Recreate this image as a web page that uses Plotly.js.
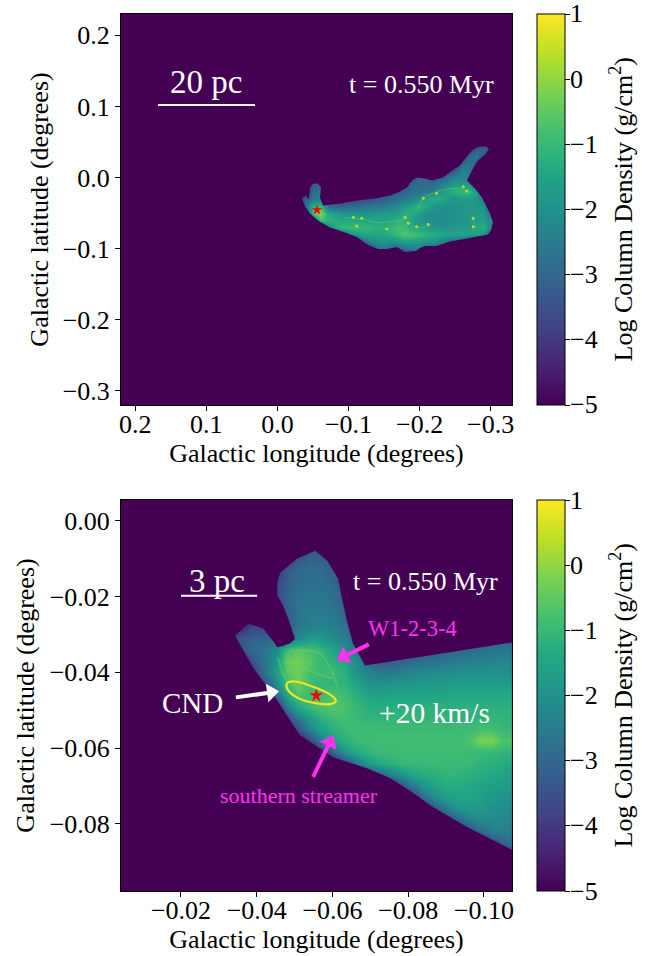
<!DOCTYPE html>
<html>
<head>
<meta charset="utf-8">
<script src="https://cdn.plot.ly/plotly-3.0.1.min.js"></script>
<style>html,body{margin:0;padding:0;background:#fff}</style>
</head>
<body>
<div id="chart" style="width:654px;height:956px"></div>
<script>
const topLon = [-0.03,-0.04,-0.05,-0.06,-0.07,-0.08,-0.09,-0.10,-0.11,-0.12,-0.13,-0.14,-0.15,-0.16,-0.17,-0.18,-0.19,-0.20,-0.21,-0.22,-0.23,-0.24,-0.25,-0.26,-0.27,-0.28,-0.29,-0.30,-0.31];
const topLat = [0.05,0.04,0.03,0.02,0.01,0.00,-0.01,-0.02,-0.03,-0.04,-0.05,-0.06,-0.07,-0.08,-0.09,-0.10,-0.11];
const topDensity = [
[-5,-5,-5,-5,-5,-5,-5,-5,-5,-5,-5,-5,-5,-5,-5,-5,-5,-5,-5,-5,-5,-5,-5,-5,-5,-4.4,-4.0,-5,-5],
[-5,-5,-5,-5,-5,-5,-5,-5,-5,-5,-5,-5,-5,-5,-5,-5,-5,-5,-5,-5,-5,-5,-5,-5,-4.0,-3.2,-2.9,-4.0,-5],
[-5,-5,-5,-5,-5,-5,-5,-5,-5,-5,-5,-5,-5,-5,-5,-5,-5,-5,-5,-5,-5,-5,-5,-4.2,-2.9,-2.7,-3.4,-4.6,-5],
[-5,-5,-5,-5,-5,-5,-5,-5,-5,-5,-5,-5,-5,-5,-5,-5,-5,-5,-5,-5,-5,-5,-4.2,-3.0,-2.6,-3.2,-4.4,-5,-5],
[-5,-5,-5,-5,-5,-5,-5,-5,-5,-5,-5,-5,-5,-5,-5,-5,-5,-5,-5,-5,-5,-4,-3.2,-2.4,-2.5,-3.8,-5,-5,-5],
[-5,-5,-5,-5,-5,-5,-5,-5,-5,-5,-5,-5,-5,-5,-5,-4.6,-3.6,-3.0,-3.2,-3.4,-3.2,-2.6,-2.2,-2.2,-2.6,-4.2,-5,-5,-5],
[-5,-4.5,-3.2,-3.1,-4.4,-5,-5,-5,-5,-5,-5,-5,-5,-5,-4.2,-3.4,-3.0,-2.9,-2.9,-2.8,-2.4,-2.1,-1.7,-1.7,-1.9,-3.0,-4.6,-5,-5],
[-5,-4,-2.9,-2.8,-4,-5,-5,-5,-5,-5,-5,-4.6,-4.2,-3.8,-3.3,-3.0,-2.8,-2.7,-2.6,-2.4,-1.9,-1.4,-1.1,-1.0,-1.0,-1.7,-3.2,-4.8,-5],
[-3.8,-3.2,-2.6,-2.5,-3.8,-4.4,-4.4,-4.2,-4.0,-3.8,-3.6,-3.4,-3.3,-3.0,-2.8,-2.6,-2.4,-2.0,-1.5,-1.2,-1.3,-1.7,-1.8,-1.7,-1.7,-1.8,-2.6,-4.2,-5],
[-4.4,-2.6,-1.1,-0.9,-2.6,-3.0,-3.0,-2.9,-2.8,-2.7,-2.6,-2.5,-2.4,-2.3,-2.1,-1.7,-1.3,-1.1,-1.5,-1.9,-2.0,-2.0,-2.0,-1.9,-1.8,-1.8,-2.0,-3.6,-5],
[-5,-3.6,-0.7,0.0,-1.2,-1.6,-1.8,-1.9,-1.9,-1.9,-1.9,-1.9,-1.8,-1.7,-1.5,-1.2,-1.3,-1.7,-2.0,-2.1,-2.1,-2.1,-2.0,-1.9,-1.8,-1.7,-1.8,-2.8,-4.4],
[-5,-5,-3.0,-0.9,-1.1,-1.2,-1.4,-1.4,-1.4,-1.4,-1.5,-1.5,-1.5,-1.4,-1.1,-1.2,-1.6,-1.9,-2.1,-2.1,-2.1,-2.1,-2.0,-1.9,-1.8,-1.7,-1.5,-2.2,-4],
[-5,-5,-5,-3.2,-2.4,-1.4,-1.0,-0.9,-0.9,-1.0,-1.1,-1.2,-1.2,-1.0,-0.8,-0.9,-1.3,-1.5,-1.7,-1.8,-1.9,-1.9,-1.8,-1.7,-1.7,-1.5,-1.2,-2.2,-4.4],
[-5,-5,-5,-5,-5,-4.6,-3.0,-2.2,-1.7,-1.5,-1.4,-1.4,-1.4,-1.2,-0.9,-0.6,-0.8,-0.9,-1.1,-1.3,-1.4,-1.5,-1.5,-1.5,-1.5,-1.5,-1.9,-3.4,-5],
[-5,-5,-5,-5,-5,-5,-5,-5,-3.8,-2.9,-2.3,-2.0,-1.9,-2.0,-1.7,-1.6,-1.6,-1.6,-1.8,-1.9,-2.2,-2.7,-3.0,-3.4,-4.2,-5,-5,-5,-5],
[-5,-5,-5,-5,-5,-5,-5,-5,-5,-5,-3.8,-2.9,-2.6,-3.0,-3.2,-2.8,-2.4,-2.5,-3.0,-3.6,-4.4,-5,-5,-5,-5,-5,-5,-5,-5],
[-5,-5,-5,-5,-5,-5,-5,-5,-5,-5,-5,-4.4,-4,-4.4,-5,-4.4,-3.6,-4,-5,-5,-5,-5,-5,-5,-5,-5,-5,-5,-5]
];
const topEdgeLon = [-0.0346,-0.0402,-0.0444,-0.0459,-0.0501,-0.0571,-0.0613,-0.0599,-0.0641,-0.0880,-0.1120,-0.1373,-0.1584,-0.1725,-0.1823,-0.1893,-0.1963,-0.2076,-0.2174,-0.2329,-0.2456,-0.2568,-0.2653,-0.2737,-0.2836,-0.2948,-0.2976,-0.2920,-0.2807,-0.2737,-0.2667,-0.2779,-0.2878,-0.2948,-0.2990,-0.3033,-0.3004,-0.2962,-0.2667,-0.2428,-0.2245,-0.2076,-0.2006,-0.1949,-0.1795,-0.1682,-0.1541,-0.1415,-0.1274,-0.1120,-0.0951,-0.0740,-0.0571,-0.0459,-0.0388,-0.0346];
const topEdgeLat = [-0.0295,-0.0253,-0.0309,-0.0140,-0.0084,-0.0084,-0.0140,-0.0281,-0.0393,-0.0365,-0.0323,-0.0295,-0.0253,-0.0197,-0.0140,-0.0042,0.0000,-0.0014,-0.0042,0.0000,0.0098,0.0169,0.0281,0.0379,0.0435,0.0435,0.0393,0.0323,0.0225,0.0098,-0.0042,-0.0154,-0.0281,-0.0421,-0.0506,-0.0632,-0.0744,-0.0801,-0.0857,-0.0899,-0.0963,-0.0963,-0.0992,-0.1034,-0.1048,-0.0977,-0.1006,-0.1006,-0.0949,-0.0837,-0.0772,-0.0702,-0.0604,-0.0506,-0.0407,-0.0295];
const filamentLon = [-0.0928,-0.1196,-0.1407,-0.1730,-0.1829,-0.1941,-0.2152,null,-0.1969,-0.2053,-0.2293,-0.2574,-0.2715,null,-0.2729,-0.2786,-0.2743];
const filamentLat = [-0.0562,-0.0590,-0.0632,-0.0604,-0.0576,-0.0702,-0.0674,null,-0.0463,-0.0295,-0.0183,-0.0154,-0.0211,null,-0.0562,-0.0674,-0.0744];
const knotLon = [-0.1115,-0.1186,-0.1068,-0.1795,-0.1841,-0.1959,-0.2122,-0.1537,-0.2755,-0.2755,-0.2615,-0.2662,-0.2240,-0.2052];
const knotLat = [-0.0682,-0.0574,-0.0560,-0.0560,-0.0644,-0.0692,-0.0658,-0.0724,-0.0574,-0.0692,-0.0129,-0.0190,-0.0222,-0.0293];

const botLon = [-0.036,-0.039,-0.042,-0.045,-0.048,-0.051,-0.054,-0.057,-0.060,-0.063,-0.066,-0.069,-0.072,-0.075,-0.078,-0.081,-0.084,-0.087,-0.090,-0.093,-0.096,-0.099,-0.102,-0.105,-0.108];
const botLat = [-0.007,-0.010,-0.013,-0.016,-0.019,-0.022,-0.025,-0.028,-0.031,-0.034,-0.037,-0.040,-0.043,-0.046,-0.049,-0.052,-0.055,-0.058,-0.061,-0.064,-0.067,-0.070,-0.073,-0.076,-0.079,-0.082,-0.085,-0.088,-0.091];
const botDensity = [
[-5,-5,-5,-5,-5,-4,-3.4,-3.6,-4,-5,-5,-5,-5,-5,-5,-5,-5,-5,-5,-5,-5,-5,-5,-5,-5],
[-5,-5,-5,-5,-4.2,-3.4,-3.1,-3.2,-3.6,-4.4,-5,-5,-5,-5,-5,-5,-5,-5,-5,-5,-5,-5,-5,-5,-5],
[-5,-5,-5,-4.2,-3.4,-3.0,-2.9,-2.9,-3.2,-4,-5,-5,-5,-5,-5,-5,-5,-5,-5,-5,-5,-5,-5,-5,-5],
[-5,-5,-5,-3.8,-3.2,-2.9,-2.8,-2.8,-3.0,-3.6,-4.4,-5,-5,-5,-5,-5,-5,-5,-5,-5,-5,-5,-5,-5,-5],
[-5,-5,-5,-3.8,-3.1,-2.8,-2.7,-2.7,-2.8,-3.3,-4.2,-5,-5,-5,-5,-5,-5,-5,-5,-5,-5,-5,-5,-5,-5],
[-5,-5,-5,-3.9,-3.1,-2.7,-2.6,-2.6,-2.7,-3.1,-4,-5,-5,-5,-5,-5,-5,-5,-5,-5,-5,-5,-5,-5,-5],
[-5,-5,-5,-4.2,-3.3,-2.7,-2.5,-2.5,-2.6,-2.9,-3.8,-5,-5,-5,-5,-5,-5,-5,-5,-5,-5,-5,-5,-5,-5],
[-4.4,-3.8,-3.8,-4.2,-3.4,-2.6,-2.4,-2.3,-2.4,-2.7,-3.5,-4.4,-5,-5,-5,-5,-5,-5,-5,-5,-5,-5,-5,-5,-5],
[-3.4,-3.1,-3.0,-3.0,-2.8,-2.2,-1.7,-1.8,-2.1,-2.4,-3.0,-4,-5,-5,-5,-5,-5,-5,-5,-4.6,-4.3,-3.9,-3.6,-3.2,-3.0],
[-3.4,-2.9,-2.7,-2.2,-0.9,-0.6,-0.8,-1.0,-1.5,-2.1,-2.6,-3.4,-4.2,-4.3,-4.2,-3.9,-3.6,-3.4,-3.1,-3.0,-2.9,-2.8,-2.7,-2.6,-2.6],
[-4.5,-3.4,-2.7,-1.9,-0.4,-0.3,-0.6,-1.0,-1.2,-1.4,-2.1,-2.8,-3.4,-3.4,-3.1,-2.9,-2.8,-2.7,-2.6,-2.5,-2.4,-2.4,-2.3,-2.3,-2.3],
[-5,-4,-2.8,-1.7,-0.6,-0.3,-0.8,-0.9,-0.9,-1.2,-1.9,-2.3,-2.5,-2.5,-2.4,-2.3,-2.2,-2.1,-2.1,-2.0,-2.0,-2.0,-2.0,-2.0,-2.0],
[-5,-5,-3.6,-2.1,-0.9,-0.3,-0.9,-1.1,-1.1,-1.1,-1.5,-1.9,-2.0,-1.9,-1.9,-1.8,-1.8,-1.8,-1.7,-1.7,-1.7,-1.7,-1.7,-1.7,-1.7],
[-5,-5,-5,-3.0,-1.4,-0.7,-0.9,-0.9,-0.7,-0.9,-1.2,-1.5,-1.6,-1.5,-1.5,-1.5,-1.5,-1.5,-1.5,-1.4,-1.4,-1.4,-1.4,-1.4,-1.4],
[-5,-5,-5,-4.5,-2.4,-1.4,-0.9,-0.7,-0.6,-0.7,-1.0,-1.2,-1.3,-1.3,-1.2,-1.2,-1.2,-1.2,-1.2,-1.2,-1.2,-1.2,-1.2,-1.2,-1.2],
[-5,-5,-5,-5,-3.8,-2.5,-1.7,-1.2,-0.9,-0.8,-1.0,-1.1,-1.1,-1.1,-1.1,-1.1,-1.1,-1.1,-1.1,-1.1,-1.1,-1.1,-1.1,-1.1,-1.1],
[-5,-5,-5,-5,-4.8,-3.6,-2.3,-1.6,-1.2,-1.0,-0.9,-0.9,-0.9,-0.9,-0.9,-0.9,-0.9,-0.9,-0.9,-0.9,-0.9,-0.8,-0.8,-1.0,-1.0],
[-5,-5,-5,-5,-5,-5,-3.8,-2.4,-1.6,-1.2,-1.0,-0.9,-0.85,-0.85,-0.85,-0.85,-0.85,-0.85,-0.85,-0.85,-0.7,-0.2,-0.2,-0.7,-0.6],
[-5,-5,-5,-5,-5,-5,-5,-4.4,-3,-1.9,-1.3,-1.1,-0.95,-0.95,-0.9,-0.9,-0.9,-0.9,-0.9,-0.9,-0.95,-1,-1,-1.1,-1.1],
[-5,-5,-5,-5,-5,-5,-5,-5,-5,-4,-2.8,-1.9,-1.4,-1.2,-1.05,-1,-1,-0.95,-0.95,-1,-1,-1.1,-1.2,-1.3,-1.4],
[-5,-5,-5,-5,-5,-5,-5,-5,-5,-5,-5,-4.4,-3.4,-2.5,-1.9,-1.5,-1.3,-1.2,-1.1,-1.1,-1.2,-1.3,-1.4,-1.5,-1.6],
[-5,-5,-5,-5,-5,-5,-5,-5,-5,-5,-5,-5,-5,-4.6,-3.6,-2.6,-1.9,-1.5,-1.3,-1.3,-1.4,-1.5,-1.6,-1.7,-1.8],
[-5,-5,-5,-5,-5,-5,-5,-5,-5,-5,-5,-5,-5,-5,-5,-4.2,-2.9,-2.1,-1.7,-1.5,-1.5,-1.6,-1.8,-1.9,-2.0],
[-5,-5,-5,-5,-5,-5,-5,-5,-5,-5,-5,-5,-5,-5,-5,-5,-4.5,-3.4,-2.5,-1.9,-1.8,-1.8,-2.0,-2.1,-2.2],
[-5,-5,-5,-5,-5,-5,-5,-5,-5,-5,-5,-5,-5,-5,-5,-5,-5,-5,-4,-3,-2.4,-2.1,-2.1,-2.2,-2.3],
[-5,-5,-5,-5,-5,-5,-5,-5,-5,-5,-5,-5,-5,-5,-5,-5,-5,-5,-5,-4.8,-3.9,-3,-2.5,-2.4,-2.4],
[-5,-5,-5,-5,-5,-5,-5,-5,-5,-5,-5,-5,-5,-5,-5,-5,-5,-5,-5,-5,-5,-4.6,-3.8,-3.0,-2.7],
[-5,-5,-5,-5,-5,-5,-5,-5,-5,-5,-5,-5,-5,-5,-5,-5,-5,-5,-5,-5,-5,-5,-5,-4.2,-3.6],
[-5,-5,-5,-5,-5,-5,-5,-5,-5,-5,-5,-5,-5,-5,-5,-5,-5,-5,-5,-5,-5,-5,-5,-5,-4.6]
];
const botEdgeLon = [-0.0343,-0.0377,-0.0417,-0.0448,-0.0454,-0.0488,-0.0501,-0.0483,-0.0467,-0.0454,-0.0454,-0.0462,-0.0506,-0.0554,-0.0586,-0.0615,-0.0625,-0.0638,-0.0654,-0.0686,-0.1074,-0.1074,-0.0955,-0.0865,-0.0812,-0.0752,-0.0691,-0.0601,-0.0535,-0.0514,-0.0454,-0.0390,-0.0343];
const botEdgeLat = [-0.0303,-0.0271,-0.0284,-0.0324,-0.0334,-0.0324,-0.0311,-0.0258,-0.0218,-0.0197,-0.0163,-0.0137,-0.0100,-0.0079,-0.0105,-0.0153,-0.0205,-0.0263,-0.0324,-0.0382,-0.0321,-0.0868,-0.0808,-0.0755,-0.0718,-0.0679,-0.0653,-0.0624,-0.0579,-0.0566,-0.0474,-0.0387,-0.0303];
const lobeLon = [-0.0456,-0.0469,-0.0483,null,-0.0493,-0.0522,-0.0559,-0.0601,null,-0.0506,-0.0567,-0.0601,-0.0615];
const lobeLat = [-0.0361,-0.0403,-0.0426,null,-0.0337,-0.0382,-0.0403,-0.0416,null,-0.0342,-0.0350,-0.0403,-0.0447];
const ringLon = [-0.0480,-0.0501,-0.0559,-0.0593,-0.0609,-0.0601,-0.0559,-0.0506,-0.0480,-0.0480];
const ringLat = [-0.0429,-0.0424,-0.0442,-0.0458,-0.0474,-0.0482,-0.0482,-0.0466,-0.0442,-0.0429];
const starLon = [-0.0557];
const starLat = [-0.0455];
const starLatBottom = [-0.0461];
const cndArrowLon = [-0.0345,-0.0438];
const cndArrowLat = [-0.0466,-0.0453];
const w1ArrowLon = [-0.0696,-0.0630];
const w1ArrowLat = [-0.0326,-0.0358];
const southArrowLon = [-0.0549,-0.0593];
const southArrowLat = [-0.0676,-0.0584];

const topLonRange=[0.22,-0.33], topLatRange=[-0.32,0.23];
const botLonRange=[-0.00416,-0.1074], botLatRange=[-0.0977,0.0055];

const viridisStops = ['#440154','#482475','#414487','#355f8d','#2a788e','#21918c','#22a884','#44bf70','#7ad151','#bddf26','#fde725'];
const viridis = viridisStops.map((c,i)=>[i/10,c]);
const serif = '"Liberation Serif","Times New Roman",serif';
const W=654,H=956;
const colorTicks=[-5,-4,-3,-2,-1,0,1];
const colorTickText=['\u22125','\u22124','\u22123','\u22122','\u22121','0','1'];

function bar(y0,y1){
  return {x:537/W,xanchor:'left',xpad:0,ypad:0,y:1-(y0+y1)/2/H,yanchor:'middle',len:(y1-y0)/H,lenmode:'fraction',
    thickness:28,thicknessmode:'pixels',outlinecolor:'#000',outlinewidth:1,ticks:'outside',ticklen:5,tickwidth:1,tickcolor:'#000',
    tickvals:colorTicks,showticklabels:false};
}
function heat(x,y,z,xa,ya,cb){
  return {type:'heatmap',x:x,y:y,z:z,xaxis:xa,yaxis:ya,zmin:-5,zmax:1,zsmooth:'best',colorscale:viridis,colorbar:cb,hoverinfo:'skip'};
}
function line(x,y,xa,ya,color,width,shape,op){
  return {type:'scatter',mode:'lines',x:x,y:y,xaxis:xa,yaxis:ya,opacity:op||1,connectgaps:false,line:{color:color,width:width,shape:shape||'linear'},hoverinfo:'skip',showlegend:false};
}
function star(x,y,xa,ya,size){
  return {type:'scatter',mode:'markers',x:x,y:y,xaxis:xa,yaxis:ya,marker:{symbol:'star',color:'#ff0000',size:size,line:{width:0}},hoverinfo:'skip',showlegend:false};
}
function mask(ex,ey,xr,yr,xa,ya){
  const xs=[xr[0],xr[0],xr[1],xr[1],xr[0],xr[0]].concat(ex.slice().reverse(),[ex[0],xr[0]]);
  const yj=ey[0];
  const ys=[yj,yr[1],yr[1],yr[0],yr[0],yj].concat(ey.slice().reverse(),[ey[0],yj]);
  return {type:'scatter',mode:'none',x:xs,y:ys,xaxis:xa,yaxis:ya,fill:'toself',fillcolor:'#440154',hoverinfo:'skip',showlegend:false};
}
function arrowLine(x,y,color){
  return {type:'scatter',mode:'lines+markers',x:x,y:y,xaxis:'x2',yaxis:'y2',line:{color:color,width:4},
    marker:{symbol:'triangle-up',angleref:'previous',size:[0,16],opacity:1,color:color,line:{width:0}},hoverinfo:'skip',showlegend:false};
}
const magenta='#ff33ee';
const traces=[
  heat(topLon,topLat,topDensity,'x','y',bar(14,405)),
  mask(topEdgeLon,topEdgeLat,topLonRange,topLatRange,'x','y'),
  line(filamentLon,filamentLat,'x','y','#5ec962',1,'spline',0.6),
  {type:'scatter',mode:'markers',x:knotLon,y:knotLat,xaxis:'x',yaxis:'y',marker:{symbol:'circle',size:3,color:'#c8e020',opacity:0.9,line:{width:0}},hoverinfo:'skip',showlegend:false},
  star(starLon,starLat,'x','y',8),
  line([0.168,0.0315],[0.102,0.102],'x','y','#fff',2),
  heat(botLon,botLat,botDensity,'x2','y2',bar(500,891)),
  mask(botEdgeLon,botEdgeLat,botLonRange,botLatRange,'x2','y2'),
  line(lobeLon,lobeLat,'x2','y2','#7ad151',1.3,'spline',0.5),
  line(ringLon,ringLat,'x2','y2','#f0e51f',2.2,'spline'),
  star(starLon,starLatBottom,'x2','y2',10),
  line([-0.02,-0.0401],[-0.0198,-0.0198],'x2','y2','#fff',2),
  arrowLine(cndArrowLon,cndArrowLat,'#fff'),
  arrowLine(w1ArrowLon,w1ArrowLat,magenta),
  arrowLine(southArrowLon,southArrowLat,magenta)
];
function axisCommon(){
  return {showgrid:false,zeroline:false,showline:true,mirror:true,linecolor:'#000',linewidth:1,ticks:'outside',ticklen:5,tickwidth:1,tickcolor:'#000',
    tickfont:{family:serif,size:26,color:'#000'}};
}
function titleOf(t,s){return {text:t,standoff:s,font:{family:serif,size:26,color:'#000'}};}
const topLonTicks=[0.2,0.1,0,-0.1,-0.2,-0.3], topLatTicks=[0.2,0.1,0,-0.1,-0.2,-0.3];
const botLonTicks=[-0.02,-0.04,-0.06,-0.08,-0.10], botLatTicks=[0,-0.02,-0.04,-0.06,-0.08];
const xDom=[121/W,512/W];
function txt(s,px,py,size,color){
  return {xref:'paper',yref:'paper',x:px/W,y:1-py/H,text:s,showarrow:false,xanchor:'center',yanchor:'middle',font:{family:serif,size:size,color:color}};
}
function barLabels(y0,y1){
  const out=colorTicks.map((v,i)=>{
    const py=y1-(v+5)/6*(y1-y0);
    const a=txt(colorTickText[i],568,py,26,'#000');
    a.xanchor='left';
    return a;
  });
  const t=txt('Log Column Density (g/cm<sup>2</sup>)',622,(y0+y1)/2,26,'#000');
  t.textangle=-90;
  out.push(t);
  return out;
}
const layout={
  width:W,height:H,margin:{l:0,r:0,t:0,b:0,autoexpand:false},paper_bgcolor:'#fff',plot_bgcolor:'#440154',showlegend:false,
  xaxis:Object.assign(axisCommon(),{domain:xDom,anchor:'y',range:topLonRange,tickvals:topLonTicks,tickformat:'.1f',ticklabelstandoff:-9,title:titleOf('Galactic longitude (degrees)',2)}),
  yaxis:Object.assign(axisCommon(),{domain:[1-405/H,1-14/H],anchor:'x',range:topLatRange,tickvals:topLatTicks,tickformat:'.1f',title:titleOf('Galactic latitude (degrees)',6)}),
  xaxis2:Object.assign(axisCommon(),{domain:xDom,anchor:'y2',range:botLonRange,tickvals:botLonTicks,tickformat:'.2f',ticklabelstandoff:-9,title:titleOf('Galactic longitude (degrees)',2)}),
  yaxis2:Object.assign(axisCommon(),{domain:[1-891/H,1-500/H],anchor:'x2',range:botLatRange,tickvals:botLatTicks,tickformat:'.2f',title:titleOf('Galactic latitude (degrees)',7)}),
  annotations:[
    txt('20 pc',206,82,33,'#fff'),
    txt('t = 0.550 Myr',421,85,26,'#fff'),
    txt('3 pc',217,581,33,'#fff'),
    txt('t = 0.550 Myr',425,581,26,'#fff'),
    txt('CND',192,703,29,'#fff'),
    txt('+20 km/s',434,713,29.5,'#fff'),
    txt('W1-2-3-4',412,628,22.5,magenta),
    txt('southern streamer',299,795,22,magenta)
  ].concat(barLabels(14,405),barLabels(500,891))
};
Plotly.newPlot('chart',traces,layout,{displayModeBar:false,staticPlot:true});
</script>
</body>
</html>
